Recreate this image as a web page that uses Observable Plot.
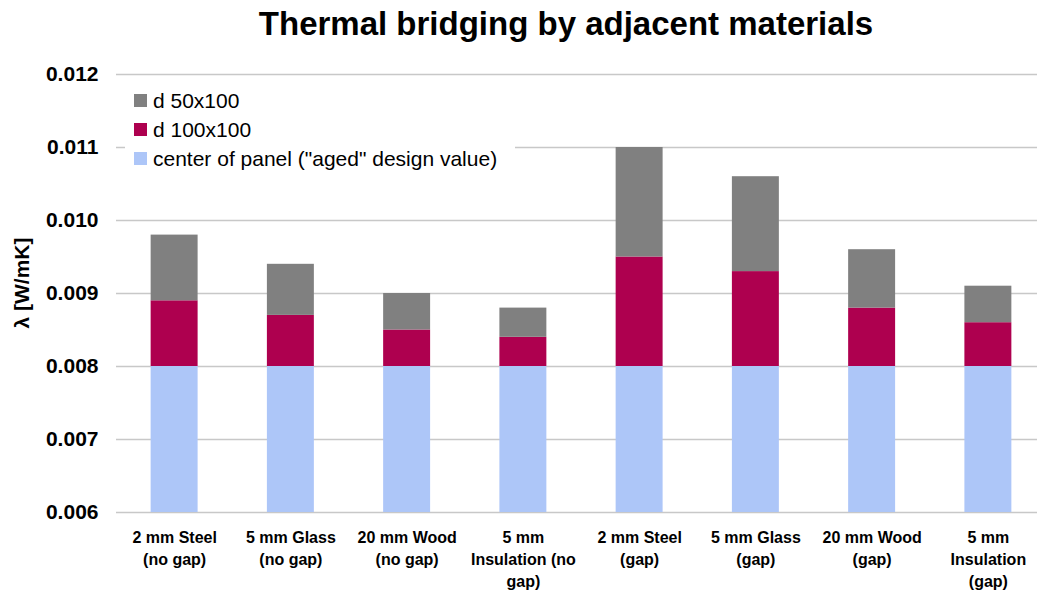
<!DOCTYPE html>
<html>
<head>
<meta charset="utf-8">
<script src="https://cdn.jsdelivr.net/npm/d3@7"></script>
<script src="https://cdn.jsdelivr.net/npm/@observablehq/plot@0.6"></script>
<style>
  html, body { margin: 0; padding: 0; background: #fff; }
  #wrap { position: relative; width: 1037px; height: 592px; overflow: hidden; font-family: "Liberation Sans", Arial, sans-serif; color: #000; }
  #title { position: absolute; left: 0; top: 7px; width: 1132px; text-align: center; font-weight: bold; font-size: 33px; line-height: 34px; white-space: nowrap; }
  #chart { position: absolute; left: 0; top: 50px; }
  #legend { position: absolute; left: 125px; top: 85px; width: 390px; height: 88px; background: #fff; }
  .row { position: absolute; left: 9px; height: 29px; display: flex; align-items: center; font-size: 21px; white-space: nowrap; }
  .sw { width: 13px; height: 13px; margin-right: 6px; flex: none; }
  #ylab { position: absolute; left: 22px; top: 283px; transform: translate(-50%, -50%) rotate(-90deg); font-weight: bold; font-size: 21px; white-space: nowrap; }
</style>
</head>
<body>
<div id="wrap">
  <div id="title">Thermal bridging by adjacent materials</div>
  <div id="chart"></div>
  <div id="legend"></div>
  <div id="ylab">λ [W/mK]</div>
</div>
<script>
// ---- data ----
const categories = [
  "2 mm Steel (no gap)", "5 mm Glass (no gap)", "20 mm Wood (no gap)", "5 mm Insulation (no gap)",
  "2 mm Steel (gap)", "5 mm Glass (gap)", "20 mm Wood (gap)", "5 mm Insulation (gap)"
];
const tickLabels = [
  "2 mm Steel\n(no gap)", "5 mm Glass\n(no gap)", "20 mm Wood\n(no gap)", "5 mm\nInsulation (no\ngap)",
  "2 mm Steel\n(gap)", "5 mm Glass\n(gap)", "20 mm Wood\n(gap)", "5 mm\nInsulation\n(gap)"
];
const seriesNames = ["center of panel (\"aged\" design value)", "d 100x100", "d 50x100"];
const seriesColors = ["#adc6f8", "#ae004f", "#808080"];
const centerOfPanel = [0.008, 0.008, 0.008, 0.008, 0.008, 0.008, 0.008, 0.008];
const d100x100 = [0.0009, 0.0007, 0.0005, 0.0004, 0.0015, 0.0013, 0.0008, 0.0006];
const d50x100  = [0.0009, 0.0007, 0.0005, 0.0004, 0.0015, 0.0013, 0.0008, 0.0005];
const yTicks = [0.006, 0.007, 0.008, 0.009, 0.010, 0.011, 0.012];

// ---- table ----
const seriesValues = [centerOfPanel, d100x100, d50x100];
const rows = [];
seriesNames.forEach((s, si) => categories.forEach((c, ci) => rows.push({category: c, series: s, value: seriesValues[si][ci]})));
const labelOf = new Map(categories.map((c, i) => [c, tickLabels[i]]));

const chart = Plot.plot({
  width: 1037,
  height: 542,
  marginLeft: 116,
  marginRight: 0,
  marginTop: 24,
  marginBottom: 80,
  style: {fontFamily: "'Liberation Sans', Arial, sans-serif", color: "#000", background: "#fff", overflow: "visible"},
  x: {type: "band", domain: categories, range: [116, 1046], paddingInner: 0.596, paddingOuter: 0.298, align: 0.5, round: false, label: null},
  y: {domain: [0.006, 0.012], label: null},
  color: {domain: seriesNames, range: seriesColors},
  marks: [
    Plot.gridY(yTicks, {stroke: "#c8c8c8", strokeOpacity: 1, strokeWidth: 1.5}),
    Plot.barY(rows, Plot.stackY({order: seriesNames}, {x: "category", y: "value", z: "series", fill: "series", clip: true})),
    Plot.axisY(yTicks, {tickSize: 0, tickPadding: 18, fontSize: 21, fontWeight: "bold", tickFormat: d3.format(".3f"), label: null}),
    Plot.axisX({tickSize: 0, tickPadding: 15, fontSize: 16, fontWeight: "bold", lineHeight: 1.375, tickFormat: d => labelOf.get(d), label: null})
  ]
});
document.getElementById("chart").appendChild(chart);

// ---- legend (top to bottom: reverse stack order) ----
const legend = document.getElementById("legend");
[2, 1, 0].forEach((si, k) => {
  const row = document.createElement("div");
  row.className = "row";
  row.style.top = (k * 29 + 1) + "px";
  const sw = document.createElement("span");
  sw.className = "sw";
  sw.style.background = seriesColors[si];
  const t = document.createElement("span");
  t.textContent = seriesNames[si];
  row.appendChild(sw); row.appendChild(t);
  legend.appendChild(row);
});
</script>
</body>
</html>
